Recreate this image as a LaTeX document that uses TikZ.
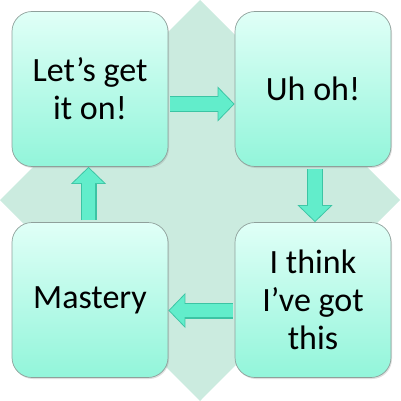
\documentclass[tikz,border=0pt]{standalone}
\usepackage{fontspec}
\setmainfont{Carlito}
\usetikzlibrary{positioning,arrows.meta,shadows}

\definecolor{diamondfill}{HTML}{CBEBDF}
\definecolor{boxtop}{HTML}{E0FFF7}
\definecolor{boxbot}{HTML}{92F5DA}
\definecolor{boxline}{HTML}{8FA09B}
\definecolor{flowfill}{HTML}{62EDCB}
\definecolor{flowline}{HTML}{3CC4A4}

\begin{document}
\begin{tikzpicture}[x=1pt,y=-1pt,node distance=211pt and 223pt,on grid,
	stage/.style={rectangle,rounded corners=20pt,draw=boxline,line width=0.7pt,
		top color=boxtop,bottom color=boxbot,minimum width=156pt,minimum height=155pt,
		inner sep=0pt,align=center,font=\fontsize{34}{38}\selectfont,
		drop shadow={opacity=0.25,shadow xshift=1pt,shadow yshift=-1.5pt}},
	flow/.style={line width=16pt,draw=flowline,-{Triangle[length=17pt,width=34pt]},
		postaction={draw=flowfill,line width=13.5pt,shorten >=1.3pt,
			-{Triangle[length=15pt,width=30pt]}}},
	]
	\useasboundingbox (0,0) rectangle (400,401);
	\fill[diamondfill] (200,0) -- (400,200) -- (200,401) -- (0,200) -- cycle;

	\node[stage] (let) at (90,89) {Let’s get\\it on!};
	\node[stage, right = of let] (uh) {Uh oh!};
	\node[stage, below = of uh] (think) {I think\\I’ve got\\this};
	\node[stage, below = of let] (mast) {Mastery};

	\draw[flow,shorten <=2pt] ([yshift=-15pt]let.east) -- ([yshift=-15pt]uh.west);
	\draw[flow,shorten <=2pt] ([xshift=2pt]uh.south) -- ([xshift=2pt]think.north);
	\draw[flow,shorten <=2pt] ([yshift=-10.5pt]think.west) -- ([yshift=-10.5pt]mast.east);
	\draw[flow,shorten <=2pt] ([xshift=-1.5pt]mast.north) -- ([xshift=-1.5pt]let.south);
\end{tikzpicture}
\end{document}
